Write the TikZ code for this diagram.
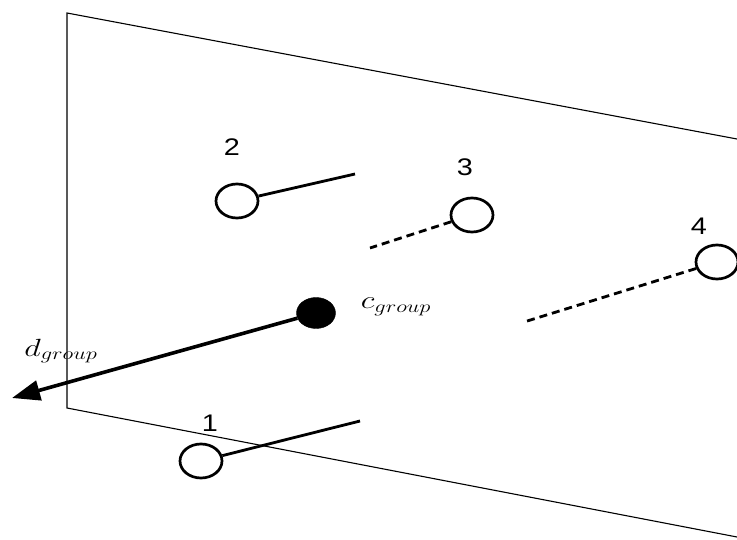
\documentclass[tikz,border=0pt]{standalone}
\usepackage{graphicx}
\usepackage{fontspec}
\newfontfamily\arialfont{Liberation Sans}
\usetikzlibrary{shapes.geometric,arrows.meta}
\newcommand{\wide}[2][1.3]{\scalebox{#1}[1]{#2}}
\begin{document}
\begin{tikzpicture}[x=1pt,y=-1pt,
  plane/.style={line width=1.1pt},
  member/.style={draw, line width=2.7pt, ellipse, minimum width=42pt, minimum height=34pt, inner sep=0pt},
  center/.style={draw, fill=black, ellipse, minimum width=39pt, minimum height=31pt, inner sep=0pt},
  link/.style={line width=2.8pt},
  dlink/.style={line width=2.8pt, dash pattern=on 8pt off 5pt},
  num/.style={font=\arialfont\fontsize{24}{26}\selectfont, inner sep=0pt},
  mlabel/.style={font=\fontsize{26}{30}\selectfont, inner sep=0pt}]
\useasboundingbox (0,0) rectangle (737,540);
% plane
\coordinate (p1) at (67,13);
\coordinate (p2) at (737,139);
\coordinate (p3) at (67,408);
\coordinate (p4) at (737,537);
\draw[plane] (p2) -- (p1) -- (p3) -- (p4);
% members
\node[member] (m1) at (201,461) {};
\node[member] (m2) at (237,201) {};
\node[member] (m3) at (472,215) {};
\node[member] (m4) at (717,262) {};
\coordinate (e1) at (360,421);
\coordinate (e2) at (355,174);
\coordinate (e3) at (370,248);
\coordinate (e4) at (524,322);
\draw[link] (m1) -- (e1);
\draw[link] (m2) -- (e2);
\draw[dlink] (m3) -- (e3);
\draw[dlink] (m4) -- (e4);
\node[num] (n1) at (210,423) {\wide[1.2]{1}};
\node[num] (n2) at (232,147) {\wide[1.2]{2}};
\node[num] (n3) at (465,167) {\wide[1.2]{3}};
\node[num] (n4) at (699,226) {\wide[1.2]{4}};
% group center
\node[center] (cg) at (316,313) {};
\coordinate (dend) at (12,398);
\draw[line width=3.6pt, -{Triangle[length=28pt,width=20pt]}] (cg) -- (dend);
\node[mlabel] (lc) at (396,307) {\wide{$c_{group}$}};
\node[mlabel] (ld) at (61,351) {\wide{$d_{group}$}};
\end{tikzpicture}
\end{document}
